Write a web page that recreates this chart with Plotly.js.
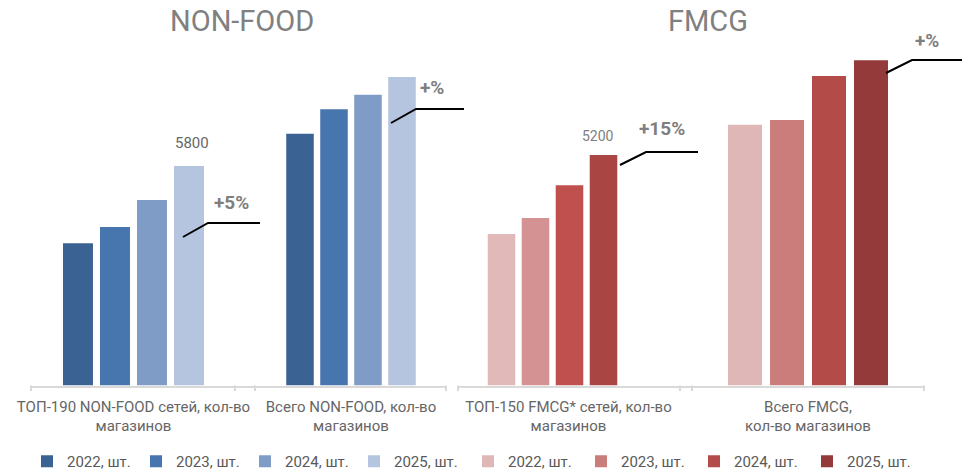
<!DOCTYPE html>
<html>
<head>
<meta charset="utf-8">
<script src="https://cdn.plot.ly/plotly-3.0.1.min.js"></script>
<style>html,body{margin:0;padding:0;background:#fff;}#chart{width:970px;height:474px;}</style>
</head>
<body>
<div id="chart"></div>
<script>
// ---- data ----
const years = ['2022, шт.', '2023, шт.', '2024, шт.', '2025, шт.'];
const catNonFoodTop = ['ТОП-190 NON-FOOD сетей, кол-во<br>магазинов'];
const catNonFoodAll = ['Всего NON-FOOD, кол-во<br>магазинов'];
const catFmcgTop = ['ТОП-150 FMCG* сетей, кол-во<br>магазинов'];
const catFmcgAll = ['Всего FMCG,<br>кол-во магазинов'];
const nonFoodTop = [3760, 4190, 4900, 5800];
const nonFoodAll = [6650, 7300, 7680, 8150];
const fmcgTop = [3420, 3780, 4520, 5200];
const fmcgAll = [5880, 5990, 6980, 7340];
const growthLabels = ['+5%', '+%', '+15%', '+%'];
const panelTitles = ['NON-FOOD', 'FMCG'];

// ---- styles ----
const blues = ['#3A6393', '#4776AE', '#7F9CC7', '#B5C4DF'];
const redsTop = ['#E0B9B8', '#D49392', '#C0504D', '#A94644'];
const redsAll = ['#DFB7B7', '#CB7D7B', '#B34B48', '#943A3A'];
const FONT = 'Roboto, "Liberation Sans", sans-serif';
const W = 970, H = 474;
const px = x => x / W;
const py = y => 1 - y / H;

const traces = [];
function addGroup(cats, vals, colors, xa, ya, legendName) {
  vals.forEach((v, i) => {
    traces.push({
      type: 'bar', x: cats, y: [v], name: years[i],
      marker: {color: colors[i], line: {width: 0}},
      xaxis: xa, yaxis: ya,
      showlegend: !!legendName, legend: legendName || 'legend',
      hoverinfo: 'skip'
    });
  });
}
addGroup(catNonFoodTop, nonFoodTop, blues, 'x', 'y', 'legend');
addGroup(catNonFoodAll, nonFoodAll, blues, 'x2', 'y', null);
addGroup(catFmcgTop, fmcgTop, redsTop, 'x3', 'y2', null);
addGroup(catFmcgAll, fmcgAll, redsAll, 'x4', 'y2', 'legend2');

const axisLine = '#D9D9D9';
function xax(d0, d1, r0, r1, anchor, shift) {
  return {
    domain: [px(d0), px(d1)], range: [r0, r1], anchor: anchor, type: 'category',
    showline: true, linecolor: axisLine, linewidth: 2, ticks: '',
    showgrid: false, zeroline: false, fixedrange: true, automargin: false,
    tickfont: {family: FONT, size: 15, color: '#666666'},
    ticklabelshift: shift || 0, ticklabelstandoff: 6
  };
}
const yDom = [py(385.5), 1];
const yax = (r, anchor) => ({
  domain: yDom, range: [0, r], anchor: anchor, visible: false, automargin: false,
  showgrid: false, zeroline: false, fixedrange: true
});

const shapes = [];
[31, 235, 255, 446, 458, 680, 692, 924].forEach(t => {
  shapes.push({type: 'line', xref: 'paper', yref: 'paper',
    x0: px(t), x1: px(t), y0: py(385.5), y1: py(391),
    line: {color: axisLine, width: 2}});
});
const callouts = [
  [[183, 237], [208, 223], [260, 223]],
  [[391, 123], [416, 109], [464, 109]],
  [[620, 165], [646, 152], [698, 152]],
  [[886, 73], [912, 60], [962, 60]]
];
callouts.forEach(c => {
  const p = c.map(q => px(q[0]) + ',' + py(q[1]));
  shapes.push({type: 'path', xref: 'paper', yref: 'paper',
    path: 'M' + p[0] + ' L' + p[1] + ' L' + p[2],
    line: {color: '#000000', width: 2}});
});

const annotations = [];
const growthPos = [[231, 202], [432, 88], [662, 128], [927, 41]];
growthLabels.forEach((t, i) => {
  annotations.push({text: '<b>' + t + '</b>', xref: 'paper', yref: 'paper',
    x: px(growthPos[i][0]), y: py(growthPos[i][1]), xanchor: 'center', yanchor: 'middle',
    showarrow: false, font: {family: FONT, size: 19, color: '#7F7F7F'}});
});
const titlePos = [241.5, 708];
panelTitles.forEach((t, i) => {
  annotations.push({text: t, xref: 'paper', yref: 'paper',
    x: px(titlePos[i]), y: py(21), xanchor: 'center', yanchor: 'middle',
    showarrow: false, font: {family: FONT, size: 29, color: '#808080'}});
});
annotations.push({text: String(nonFoodTop[3]), xref: 'paper', yref: 'y',
  x: px(192), y: nonFoodTop[3], yshift: 23, xanchor: 'center', yanchor: 'middle',
  showarrow: false, font: {family: FONT, size: 15, color: '#666666'}});
annotations.push({text: String(fmcgTop[3]), xref: 'paper', yref: 'y2',
  x: px(598), y: fmcgTop[3], yshift: 19, xanchor: 'center', yanchor: 'middle',
  showarrow: false, font: {family: FONT, size: 14, color: '#808080'}});

const legendBase = {
  orientation: 'h', yref: 'paper', y: -4 / H, yanchor: 'bottom', xanchor: 'left',
  font: {family: FONT, size: 15, color: '#595959'}, bgcolor: 'rgba(0,0,0,0)',
  borderwidth: 0, entrywidthmode: 'pixels', traceorder: 'normal',
  itemclick: false, itemdoubleclick: false
};

const layout = {
  width: W, height: H,
  margin: {l: 0, r: 0, t: 0, b: 0, autoexpand: false},
  paper_bgcolor: '#ffffff', plot_bgcolor: 'rgba(0,0,0,0)',
  font: {family: FONT},
  barmode: 'group', bargap: 0.28, bargroupgap: 0.19,
  xaxis: xax(31, 255, -0.4985, 0.591, 'y'),
  xaxis2: xax(255, 446, -0.5082, 0.5029, 'y'),
  xaxis3: xax(458, 692, -0.5003, 0.7385, 'y2', 16),
  xaxis4: xax(692, 924, -0.4972, 0.4972, 'y2'),
  yaxis: yax(10186, 'x'),
  yaxis2: yax(8697, 'x3'),
  legend: Object.assign({}, legendBase, {x: px(27), entrywidth: 64}),
  legend2: Object.assign({}, legendBase, {x: px(468), entrywidth: 68}),
  shapes: shapes,
  annotations: annotations
};

Plotly.newPlot('chart', traces, layout, {staticPlot: true, displayModeBar: false});
</script>
</body>
</html>
